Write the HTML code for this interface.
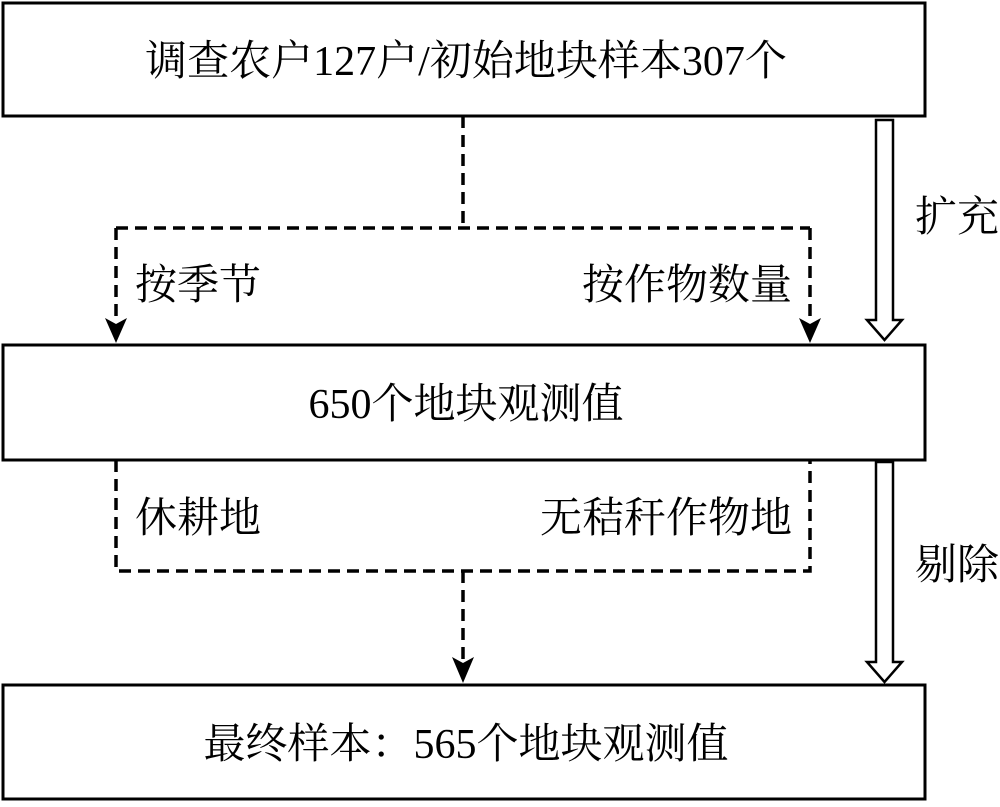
<!DOCTYPE html>
<html><head><meta charset="utf-8"><style>
body{margin:0;background:#fff;}
svg text{font-family:"Liberation Serif","Noto Serif CJK SC",serif;font-size:42px;fill:#000;}
</style></head><body>
<svg width="1000" height="802" viewBox="0 0 1000 802" xmlns="http://www.w3.org/2000/svg">
<g fill="none" stroke="#000" stroke-width="3">
<rect x="3" y="3" width="922" height="113"/>
<rect x="3" y="345" width="922" height="115"/>
<rect x="3" y="685" width="922" height="114"/>
</g>
<g fill="none" stroke="#000" stroke-width="3.5" stroke-dasharray="12,7">
<path d="M463 116 V228"/>
<path d="M116 228 H810"/>
<path d="M116 228 V322"/>
<path d="M810 228 V322"/>
<path d="M116 460 V571 H810 V460"/>
<path d="M463 571 V662"/>
</g>
<g fill="#000">
<path d="M105 318 L116 343 L127 318 L116 324 Z"/>
<path d="M799 318 L810 343 L821 318 L810 324 Z"/>
<path d="M452 657 L463 683 L474 657 L463 663 Z"/>
</g>
<g fill="#fff" stroke="#000" stroke-width="2.5">
<path d="M876 120 H893 V320 H902 L884.5 340 L867 320 H876 Z"/>
<path d="M876 462 H893 V662 H902 L884.5 682 L867 662 H876 Z"/>
</g>
<text x="466" y="75" text-anchor="middle">调查农户127户/初始地块样本307个</text>
<text x="466" y="418" text-anchor="middle">650个地块观测值</text>
<text x="466" y="758" text-anchor="middle">最终样本：565个地块观测值</text>
<text x="135" y="299">按季节</text>
<text x="792" y="299" text-anchor="end">按作物数量</text>
<text x="135" y="532">休耕地</text>
<text x="792" y="532" text-anchor="end">无秸秆作物地</text>
<text x="915" y="231">扩充</text>
<text x="915" y="579">剔除</text>
</svg>
</body></html>
